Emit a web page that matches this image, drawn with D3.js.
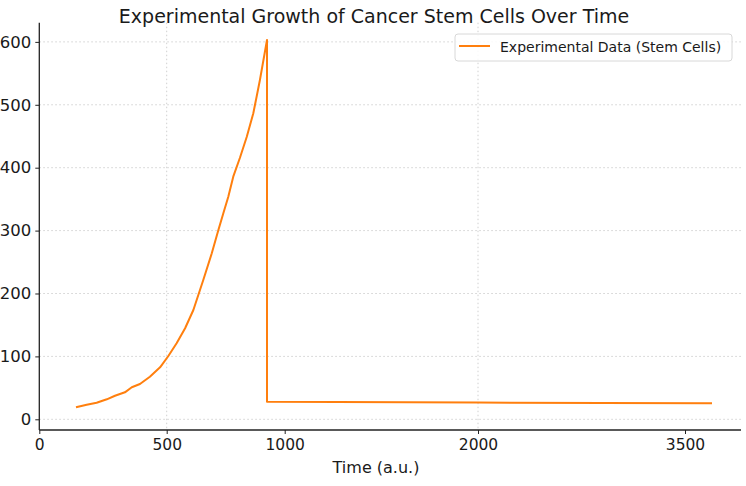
<!DOCTYPE html>
<html>
<head>
<meta charset="utf-8">
<script src="https://cdn.jsdelivr.net/npm/d3@7"></script>
<style>
  html, body { margin: 0; padding: 0; background: #fff; }
  svg { display: block; font-family: "DejaVu Sans", sans-serif; }
</style>
</head>
<body>
<svg id="chart" width="746" height="486"></svg>
<script>
// ---- data ----
const timeValues = [144, 186, 225, 265, 297, 336, 363, 395, 434, 474, 507, 542, 578, 613, 641, 655, 691, 719, 740, 761, 782, 810, 839, 867, 895, 925, 925, 2000, 2900, 3640];
const stemCells  = [19.1, 23.2, 26.4, 31.8, 37.5, 42.9, 50.9, 56.1, 67.7, 82.7, 100.6, 120.8, 144.7, 173.8, 205.6, 221.5, 263.9, 301, 327.5, 353.9, 385.7, 415.4, 448.8, 486.5, 539.4, 603, 28, 26.7, 25.9, 25.4];
const xTickValues = [0, 500, 1000, 2000, 3500];
const xGridValues = [500, 2000];
const yTickValues = [0, 100, 200, 300, 400, 500, 600];
const seriesName = "Experimental Data (Stem Cells)";
const titleText = "Experimental Growth of Cancer Stem Cells Over Time";
const xLabelText = "Time (a.u.)";

(function () {
// ---- layout ----
const svg = d3.select("#chart");
const mLeft = 39.3, mRight = 741, mTop = 22.7, mBottom = 430;

const x = d3.scaleLinear()
  .domain([0, 500, 1000, 2000, 3500, 3790])
  .range([mLeft, 166.7, 284.7, 478, 685, mRight]);
const y = d3.scaleLinear().domain([-17, 630.5]).range([mBottom, mTop]);

// grid
const grid = svg.append("g").attr("stroke", "#d0d0d0").attr("stroke-width", 1).attr("stroke-dasharray", "1.5,2.5");
grid.selectAll("line.h").data(yTickValues).join("line").attr("class", "h")
  .attr("x1", mLeft).attr("x2", mRight)
  .attr("y1", d => y(d)).attr("y2", d => y(d));
grid.selectAll("line.v").data(xGridValues).join("line").attr("class", "v")
  .attr("y1", mTop).attr("y2", mBottom)
  .attr("x1", d => x(d)).attr("x2", d => x(d));

// axes
const xAxis = d3.axisBottom(x).tickValues(xTickValues).tickSize(4).tickPadding(5).tickFormat(d3.format("d"));
const yAxis = d3.axisLeft(y).tickValues(yTickValues).tickSize(4).tickPadding(4).tickFormat(d3.format("d"));

const gx = svg.append("g").attr("transform", `translate(0,${mBottom})`).call(xAxis);
const gy = svg.append("g").attr("transform", `translate(${mLeft},0)`).call(yAxis);
[gx, gy].forEach(g => {
  g.select(".domain").attr("stroke", "#222").attr("stroke-width", 1.3);
  g.selectAll(".tick line").attr("stroke", "#222").attr("stroke-width", 1);
  g.selectAll(".tick text").attr("fill", "#1a1a1a").attr("font-family", "DejaVu Sans, sans-serif");
});
gx.selectAll(".tick text").attr("font-size", 15.5);
gy.selectAll(".tick text").attr("font-size", 16.5);
gx.select(".domain").attr("d", `M${mLeft},0H${mRight}`);
gy.select(".domain").attr("d", `M0,${mTop}V${mBottom}`);

// line
const line = d3.line().x((d, i) => x(timeValues[i])).y(d => y(d));
svg.append("path")
  .datum(stemCells)
  .attr("fill", "none")
  .attr("stroke", "#ff7f0e")
  .attr("stroke-width", 2)
  .attr("stroke-linejoin", "round")
  .attr("d", line);

// title
svg.append("text")
  .attr("x", 374).attr("y", 23)
  .attr("text-anchor", "middle")
  .attr("font-size", 19)
  .attr("fill", "#1a1a1a")
  .text(titleText);

// x label
svg.append("text")
  .attr("x", 376).attr("y", 473)
  .attr("text-anchor", "middle")
  .attr("font-size", 16)
  .attr("fill", "#1a1a1a")
  .text(xLabelText);

// legend
const lg = svg.append("g");
lg.append("rect")
  .attr("x", 455).attr("y", 34).attr("width", 277).attr("height", 27)
  .attr("rx", 3).attr("fill", "#fff").attr("fill-opacity", 0.85)
  .attr("stroke", "#d8d8d8").attr("stroke-width", 1);
lg.append("line")
  .attr("x1", 459).attr("x2", 490).attr("y1", 46).attr("y2", 46)
  .attr("stroke", "#ff7f0e").attr("stroke-width", 2);
lg.append("text")
  .attr("x", 500).attr("y", 51.5)
  .attr("font-size", 14)
  .attr("fill", "#1a1a1a")
  .text(seriesName);
})();
</script>
</body>
</html>
